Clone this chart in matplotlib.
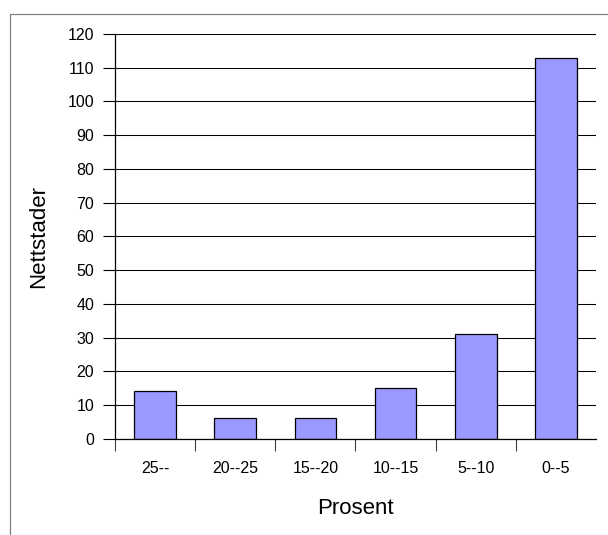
import numpy as np
import matplotlib
matplotlib.use("Agg")
import matplotlib.pyplot as plt
from matplotlib.patches import Rectangle

# data
kategoriar = ["25--", "20--25", "15--20", "10--15", "5--10", "0--5"]
nettstader = [14, 6, 6, 15, 31, 113]
y_ticks = list(range(0, 121, 10))

plt.rcParams['font.family'] = ['Liberation Sans', 'DejaVu Sans']

W, H = 608, 535
fig = plt.figure(figsize=(W / 100, H / 100), dpi=100)
fig.patch.set_facecolor("white")

# gray frame around chart area (runs off the right / bottom edge)
fig.patches.append(Rectangle((10 / W, -0.05), 1.1, 1 - 14 / H + 0.05,
                             transform=fig.transFigure, fill=False,
                             edgecolor="#808080", linewidth=0.9))

# axes placement in pixels
x0, x1 = 115, 596
y_top, y_zero = 34, 438.7
ax = fig.add_axes([x0 / W, 1 - y_zero / H, (x1 - x0) / W, (y_zero - y_top) / H])

x = np.arange(len(kategoriar))
ax.bar(x, nettstader, width=0.52, color="#9999FF", edgecolor="black",
       linewidth=0.9, zorder=3)

ax.set_xlim(-0.5, len(kategoriar) - 0.5)
ax.set_ylim(0, 120)
ax.set_yticks(y_ticks)
ax.yaxis.grid(True, color="black", linewidth=0.75, zorder=0)
ax.set_axisbelow(True)

ax.spines["top"].set_visible(False)
ax.spines["right"].set_visible(False)
ax.spines["left"].set_linewidth(0.9)
ax.spines["bottom"].set_linewidth(0.9)
ax.spines["bottom"].set_zorder(4)

ax.tick_params(axis="y", direction="out", length=8.6, width=0.8,
               pad=6.5, labelsize=11.5)
# labels at centre without ticks, ticks at category boundaries
ax.set_xticks(x)
ax.set_xticklabels(kategoriar)
ax.tick_params(axis="x", which="major", length=0, pad=16, labelsize=11.5)
ax.set_xticks(np.arange(-0.5, len(kategoriar) - 1, 1.0), minor=True)
ax.tick_params(axis="x", which="minor", direction="out", length=8.6,
               width=0.8, color="#404040")

ax.set_xlabel("Prosent", fontsize=16)
ax.xaxis.label.set_va("center")
ax.xaxis.set_label_coords(0.5, (y_zero - 508.5) / (y_zero - y_top))
ax.set_ylabel("Nettstader", fontsize=16)
ax.yaxis.label.set_va("center")
ax.yaxis.set_label_coords((38.5 - x0) / (x1 - x0), 0.5)

fig.savefig("out.png", dpi=100)
